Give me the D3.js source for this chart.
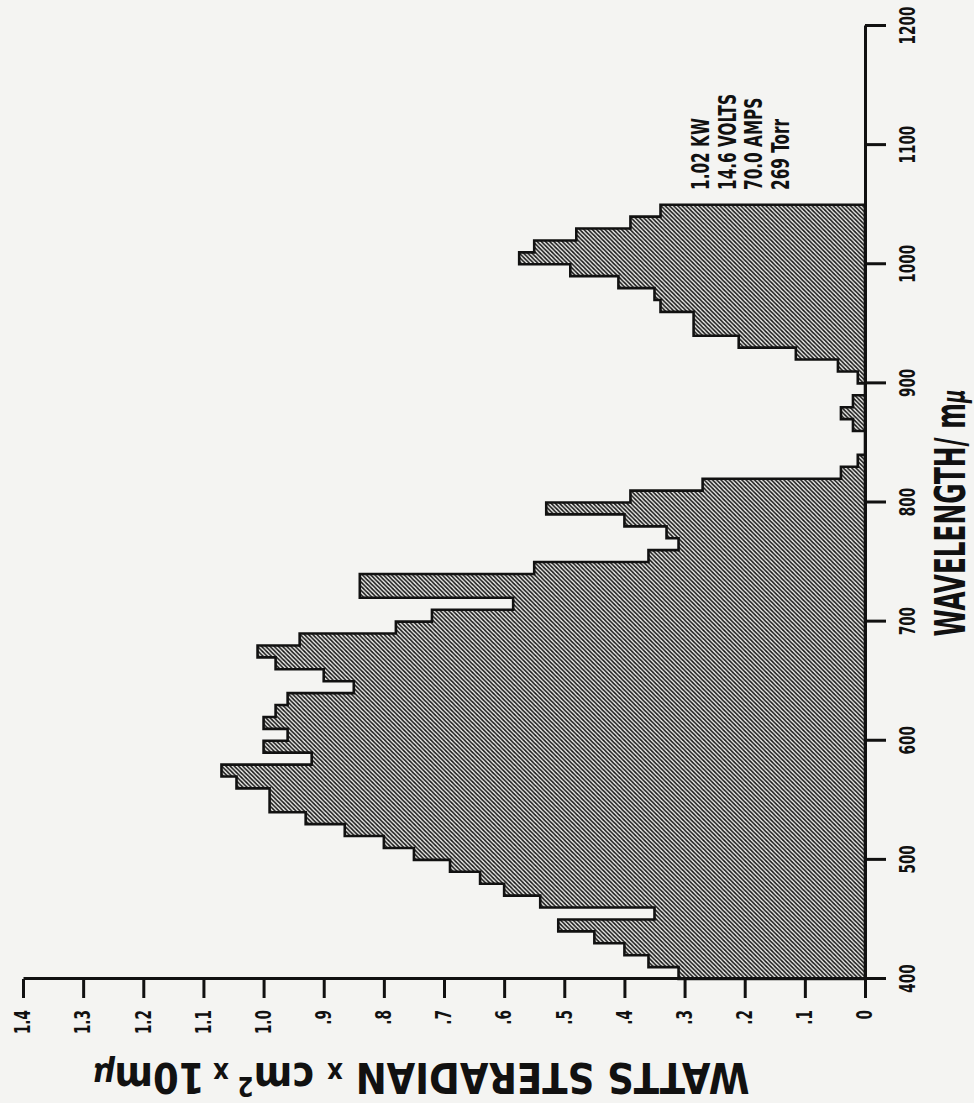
<!DOCTYPE html>
<html>
<head>
<meta charset="utf-8">
<script src="https://cdn.jsdelivr.net/npm/d3@7"></script>
<style>
body { margin: 0; background: #f4f4f2; }
svg { display: block; }
.lbl { font-family: "Liberation Sans Narrow", "DejaVu Sans Condensed", "DejaVu Sans", sans-serif; font-weight: bold; font-stretch: condensed; fill: #111; }
</style>
</head>
<body>
<svg width="974" height="1103"></svg>
<script>

// bin start (m\u03bc), each bin 10 m\u03bc wide
var wavelengths = [400, 410, 420, 430, 440, 450, 460, 470, 480, 490,
                   500, 510, 520, 530, 540, 550, 560, 570, 580, 590,
                   600, 610, 620, 630, 640, 650, 660, 670, 680, 690,
                   700, 710, 720, 730, 740, 750, 760, 770, 780, 790,
                   800, 810, 820, 830, 840, 850, 860, 870, 880, 890,
                   900, 910, 920, 930, 940, 950, 960, 970, 980, 990,
                   1000, 1010, 1020, 1030, 1040];
var binWidth = 10;

var watts = [0.31, 0.36, 0.40, 0.45, 0.51, 0.35, 0.54, 0.60, 0.64, 0.69,
             0.75, 0.80, 0.865, 0.93, 0.99, 0.99, 1.045, 1.07, 0.92, 1.00,
             0.96, 1.00, 0.98, 0.96, 0.85, 0.90, 0.98, 1.01, 0.94, 0.78,
             0.72, 0.585, 0.84, 0.84, 0.55, 0.36, 0.31, 0.33, 0.40, 0.53,
             0.39, 0.27, 0.04, 0.012, 0, 0, 0.02, 0.04, 0.02, 0,
             0.012, 0.045, 0.115, 0.21, 0.285, 0.285, 0.34, 0.35, 0.41, 0.49,
             0.575, 0.55, 0.48, 0.39, 0.34];

var wlTicks = [400, 500, 600, 700, 800, 900, 1000, 1100, 1200];
var wattTicks = [0, 0.1, 0.2, 0.3, 0.4, 0.5, 0.6, 0.7, 0.8, 0.9, 1.0, 1.1, 1.2, 1.3, 1.4];
var wattTickLabels = ["0", ".1", ".2", ".3", ".4", ".5", ".6", ".7", ".8", ".9", "1.0", "1.1", "1.2", "1.3", "1.4"];
var notes = ["1.02 KW", "14.6 VOLTS", "70.0 AMPS", "269 Torr"];

var svg = d3.select("svg"),
    W = +svg.attr("width"),
    H = +svg.attr("height");

// squeeze text sideways, the original lettering is very narrow
function squeeze(sel, k) {
  sel.each(function() {
    d3.select(this)
      .attr("textLength", this.getComputedTextLength() * k)
      .attr("lengthAdjust", "spacingAndGlyphs");
  });
}

// hatch for the filled histogram
var pat = svg.append("defs").append("pattern")
    .attr("id", "hatch")
    .attr("patternUnits", "userSpaceOnUse")
    .attr("width", 4.2)
    .attr("height", 4.2);
pat.append("rect").attr("width", 4.2).attr("height", 4.2).attr("fill", "#ecece9");
pat.append("path")
    .attr("d", "M-1,1 L1,-1 M0,4.2 L4.2,0 M3.2,5.2 L5.2,3.2")
    .attr("stroke", "#151515")
    .attr("stroke-width", 1.55);

// the chart is drawn upright and then turned a quarter turn, like the page it came from
var g = svg.append("g")
    .attr("transform", "translate(0," + H + ") rotate(-90)");

var x = d3.scaleLinear().domain([400, 1200]).range([124, 1077]),
    y = d3.scaleLinear().domain([0, 1.4]).range([865, 23]);

var bins = wavelengths.map(function(w, i) { return {w: w, v: watts[i]}; });
bins.push({w: wavelengths[wavelengths.length - 1] + binWidth, v: watts[watts.length - 1]});

var area = d3.area()
    .x(function(d) { return x(d.w); })
    .y0(y(0))
    .y1(function(d) { return y(d.v); })
    .curve(d3.curveStepAfter);

g.append("path")
    .datum(bins)
    .attr("d", area)
    .attr("fill", "url(#hatch)")
    .attr("stroke", "#111")
    .attr("stroke-width", 2.6);

var xAxis = d3.axisBottom(x)
    .tickValues(wlTicks)
    .tickSize(21)
    .tickSizeOuter(0)
    .tickPadding(14)
    .tickFormat(d3.format("d"));

var yAxis = d3.axisLeft(y)
    .tickValues(wattTicks)
    .tickSize(19)
    .tickSizeOuter(0)
    .tickPadding(12)
    .tickFormat(function(d, i) { return wattTickLabels[i]; });

var gx = g.append("g")
    .attr("transform", "translate(0," + y(0) + ")")
    .call(xAxis);

var gy = g.append("g")
    .attr("transform", "translate(" + x(400) + ",0)")
    .call(yAxis);

[gx, gy].forEach(function(a) {
  a.select(".domain").attr("stroke", "#111").attr("stroke-width", 3);
  a.selectAll(".tick line").attr("stroke", "#111").attr("stroke-width", 3);
  a.selectAll(".tick text")
      .attr("class", "lbl")
      .attr("font-size", 21)
      .attr("fill", "#111")
      .call(squeeze, 0.72);
});

// axis titles
var xt = g.append("text")
    .attr("class", "lbl")
    .attr("x", 590)
    .attr("y", 965)
    .attr("text-anchor", "middle")
    .attr("font-size", 43)
    .attr("textLength", 247)
    .attr("lengthAdjust", "spacingAndGlyphs");
xt.append("tspan").text("WAVELENGTH/ m");
xt.append("tspan").attr("font-style", "italic").attr("font-size", 32).text("\u03bc");

var yt = g.append("text")
    .attr("class", "lbl")
    .attr("transform", "translate(40,421) rotate(-90)")
    .attr("text-anchor", "middle")
    .attr("font-size", 42)
    .attr("textLength", 657)
    .attr("lengthAdjust", "spacingAndGlyphs");
yt.append("tspan").text("WATTS STERADIAN ");
yt.append("tspan").attr("font-size", 28).text("x");
yt.append("tspan").text(" cm");
yt.append("tspan").attr("font-size", 26).attr("dy", -14).text("2");
yt.append("tspan").attr("font-size", 28).attr("dy", 14).text(" x ");
yt.append("tspan").text("10m");
yt.append("tspan").attr("font-style", "italic").attr("font-size", 34).text("\u03bc");

// run conditions
g.append("g")
    .selectAll("text")
    .data(notes)
    .enter().append("text")
    .attr("class", "lbl")
    .attr("x", 913)
    .attr("y", function(d, i) { return 709 + i * 26.5; })
    .attr("font-size", 25)
    .text(function(d) { return d; })
    .call(squeeze, 0.68);

</script>
</body>
</html>
